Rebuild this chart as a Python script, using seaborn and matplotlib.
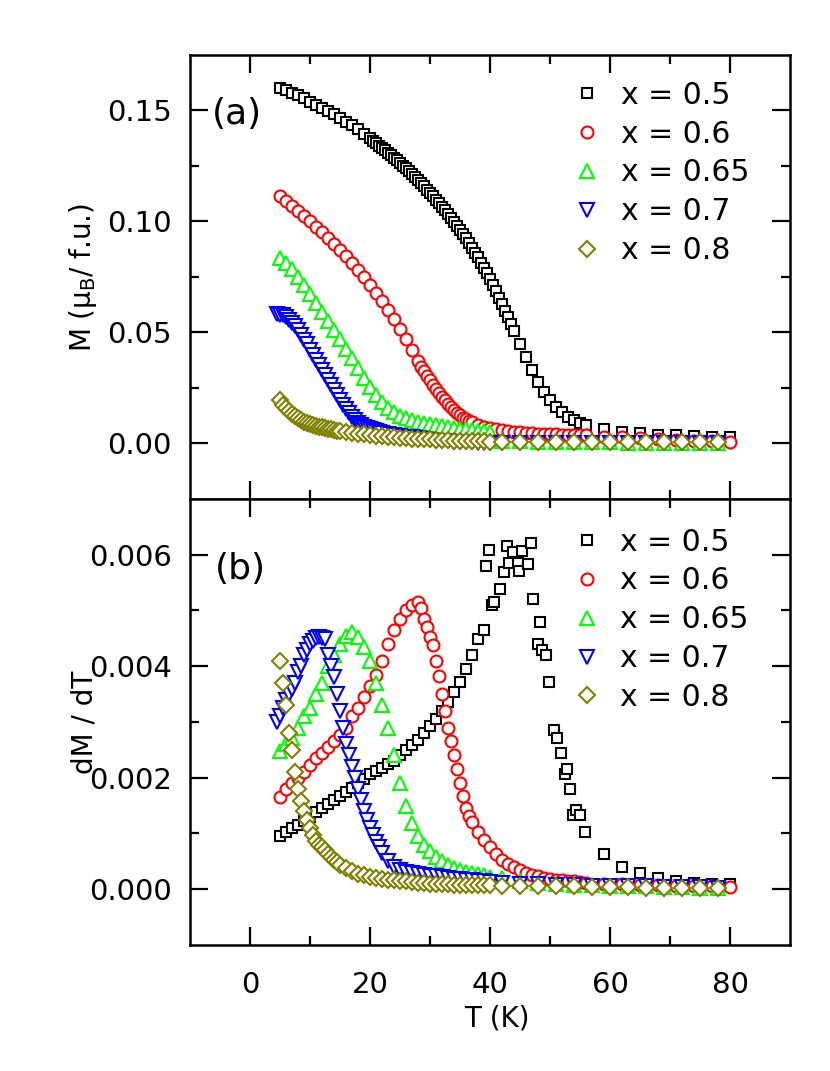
import numpy as np
import pandas as pd
import matplotlib
matplotlib.use("Agg")
import matplotlib.pyplot as plt
import seaborn as sns
from matplotlib.ticker import MultipleLocator, FormatStrFormatter
from matplotlib.transforms import blended_transform_factory

# ---------------- data ----------------
labels = ["x = 0.5", "x = 0.6", "x = 0.65", "x = 0.7", "x = 0.8"]
colors = ["#000000", "#FF0000", "#00FF00", "#0000FF", "#808000"]
markers = ["s", "o", "^", "v", "D"]

# x = 0.5 : magnetisation
T_05 = [5, 6, 7, 8, 9, 10, 11, 12, 13, 14, 15, 16, 17, 18, 19, 20, 20.5, 21, 21.5, 22,
        22.5, 23, 23.5, 24, 24.5, 25, 25.5, 26, 26.5, 27, 27.5, 28, 28.5, 29, 29.5, 30,
        30.5, 31, 31.5, 32, 32.5, 33, 33.5, 34, 34.5, 35, 35.5, 36, 36.5, 37, 37.5, 38,
        38.5, 39, 39.5, 40, 40.5, 41, 41.5, 42, 42.5, 43, 43.5, 44, 45, 46, 47, 48, 49,
        50, 51, 52, 53, 54, 55, 56, 59, 62, 65, 68, 71, 74, 77, 80]
M_05 = [0.1600, 0.1590, 0.1580, 0.1570, 0.1555, 0.1540, 0.1525, 0.1510, 0.1497, 0.1482,
        0.1467, 0.1450, 0.1433, 0.1415, 0.1395, 0.1375, 0.1364, 0.1353, 0.1342, 0.1331,
        0.1320, 0.1309, 0.1298, 0.1287, 0.1276, 0.1264, 0.1252, 0.1239, 0.1226, 0.1213,
        0.1200, 0.1186, 0.1172, 0.1158, 0.1144, 0.1129, 0.1114, 0.1099, 0.1083, 0.1067,
        0.1051, 0.1034, 0.1017, 0.0999, 0.0981, 0.0963, 0.0944, 0.0924, 0.0903, 0.0882,
        0.0860, 0.0838, 0.0815, 0.0792, 0.0768, 0.0743, 0.0715, 0.0686, 0.0657, 0.0628,
        0.0598, 0.0568, 0.0538, 0.0508, 0.0448, 0.0390, 0.0332, 0.0278, 0.0234, 0.0196,
        0.0165, 0.0140, 0.0120, 0.0104, 0.0092, 0.0083, 0.0064, 0.0053, 0.0046, 0.0040,
        0.0036, 0.0033, 0.0031, 0.0029]

# x = 0.5 : derivative (noisy above 39 K)
T_05_d = [5, 6, 7, 8, 9, 10, 11, 12, 13, 14, 15, 16, 17, 18, 19, 20, 21, 22, 23, 24,
          25, 26, 27, 28, 29, 30, 31, 32, 33, 34, 35, 36, 37, 38, 39,
          39.3, 39.9, 40.4, 40.7, 41.7, 42.4, 42.9, 43.2, 43.9, 44.6, 44.9, 45.3, 46.4,
          46.9, 47.2, 48.0, 48.4, 48.6, 49.3, 49.9, 50.6, 51.1, 51.9, 52.5, 52.8, 53.3,
          53.9, 54.3, 55.0, 55.8, 59, 62, 65, 68, 71, 74, 77, 80]
D_05 = [0.00095, 0.00102, 0.00110, 0.00116, 0.00123, 0.00130, 0.00138, 0.00145, 0.00152,
        0.00160, 0.00167, 0.00175, 0.00182, 0.00190, 0.00198, 0.00206, 0.00212, 0.00218,
        0.00224, 0.00230, 0.00240, 0.00250, 0.00258, 0.00268, 0.00280, 0.00292, 0.00305,
        0.00320, 0.00336, 0.00354, 0.00372, 0.00395, 0.00420, 0.00448, 0.00465,
        0.00580, 0.00608, 0.00510, 0.00515, 0.00538, 0.00569, 0.00616, 0.00586, 0.00605,
        0.00586, 0.00571, 0.00607, 0.00583, 0.00621, 0.00520, 0.00439, 0.00480, 0.00430,
        0.00420, 0.00372, 0.00285, 0.00272, 0.00245, 0.00207, 0.00215, 0.00179, 0.00133,
        0.00142, 0.00133, 0.00102, 0.00064, 0.00040, 0.00029, 0.00020, 0.00015, 0.00012,
        0.00010, 0.00010]

# x = 0.6
T_06 = [5, 6, 7, 8, 9, 10, 11, 12, 13, 14, 15, 16, 17, 18, 19, 20, 21, 22, 23, 24,
        25, 26, 27, 28, 28.5, 29, 29.5, 30, 30.5, 31, 31.5, 32, 32.5, 33, 33.5, 34, 34.5,
        35, 35.5, 36, 36.5, 37, 38, 39, 40, 41, 42, 43, 44, 45, 46, 47, 48, 49, 50, 51,
        52, 53, 54, 55, 56, 59, 62, 65, 68, 71, 74, 77, 80]
M_06 = [0.1113, 0.1091, 0.1069, 0.1046, 0.1023, 0.1000, 0.0976, 0.0951, 0.0925, 0.0899,
        0.0872, 0.0844, 0.0814, 0.0783, 0.0750, 0.0715, 0.0679, 0.0641, 0.0601, 0.0560,
        0.0516, 0.0469, 0.0420, 0.0370, 0.0346, 0.0325, 0.0304, 0.0284, 0.0264, 0.0245,
        0.0227, 0.0210, 0.0194, 0.0178, 0.0163, 0.0150, 0.0138, 0.0127, 0.0117, 0.0109,
        0.0102, 0.0096, 0.0085, 0.0076, 0.0068, 0.0064, 0.0060, 0.0056, 0.0053, 0.0050,
        0.0048, 0.0046, 0.0044, 0.0043, 0.0042, 0.0041, 0.0040, 0.0039, 0.0038, 0.0037,
        0.0036, 0.0031, 0.0027, 0.0023, 0.0019, 0.0016, 0.0013, 0.0010, 0.0007]
D_06 = [0.00165, 0.00180, 0.00190, 0.00200, 0.00210, 0.00222, 0.00235, 0.00245, 0.00256,
        0.00266, 0.00276, 0.00290, 0.00310, 0.00325, 0.00345, 0.00365, 0.00385, 0.00410,
        0.00440, 0.00465, 0.00485, 0.00500, 0.00510, 0.00515, 0.00505, 0.00485, 0.00470,
        0.00452, 0.00438, 0.00410, 0.00382, 0.00350, 0.00320, 0.00290, 0.00265, 0.00240,
        0.00215, 0.00190, 0.00168, 0.00146, 0.00132, 0.00120, 0.00102, 0.00088, 0.00075,
        0.00063, 0.00053, 0.00045, 0.00039, 0.00034, 0.00030, 0.00026, 0.00023, 0.00021,
        0.00019, 0.00017, 0.00016, 0.00015, 0.00014, 0.00013, 0.00012, 0.00010, 0.00009,
        0.00008, 0.00007, 0.00006, 0.00005, 0.00005, 0.00004]

# x = 0.65
T_065 = [5, 6, 7, 8, 9, 10, 11, 12, 13, 14, 15, 16, 17, 18, 19, 20, 21, 22, 23, 24,
         25, 26, 27, 28, 29, 30, 31, 32, 33, 34, 35, 36, 37, 38, 39, 40,
         42, 45, 48, 51, 54, 57, 60, 63, 66, 69, 72, 75, 78]
M_065 = [0.0835, 0.0815, 0.0785, 0.0750, 0.0712, 0.0672, 0.0632, 0.0592, 0.0552, 0.0511,
         0.0470, 0.0427, 0.0384, 0.0340, 0.0297, 0.0256, 0.0218, 0.0186, 0.0160, 0.0140,
         0.0125, 0.0113, 0.0104, 0.0097, 0.0091, 0.0086, 0.0081, 0.0077, 0.0073, 0.0069,
         0.0066, 0.0063, 0.0060, 0.0057, 0.0054, 0.0051,
         0.0010, 0.0009, 0.0008, 0.0007, 0.0006, 0.0005, 0.0005, 0.0004, 0.0004, 0.0003,
         0.0003, 0.0002, 0.0002]
D_065 = [0.00248, 0.00260, 0.00272, 0.00290, 0.00310, 0.00325, 0.00350, 0.00370, 0.00400,
         0.00420, 0.00440, 0.00455, 0.00462, 0.00452, 0.00435, 0.00410, 0.00370, 0.00330,
         0.00290, 0.00240, 0.00190, 0.00150, 0.00118, 0.00095, 0.00080, 0.00068, 0.00058,
         0.00050, 0.00043, 0.00038, 0.00034, 0.00031, 0.00029, 0.00027, 0.00025, 0.00022,
         0.00020, 0.00015, 0.00012, 0.00010, 0.00008, 0.00007, 0.00006, 0.00005, 0.00005,
         0.00004, 0.00004, 0.00003, 0.00003]

# x = 0.7
T_07 = [4.5, 5, 5.5, 6, 6.5, 7, 7.5, 8, 8.5, 9, 9.5, 10, 10.5, 11, 11.5, 12, 12.5, 13,
        13.5, 14, 14.5, 15, 15.5, 16, 16.5, 17, 17.5, 18, 18.5, 19, 19.5, 20, 20.5, 21,
        21.5, 22, 23, 24, 25, 26, 27, 28, 29, 30, 31, 32, 33, 34, 35, 36, 37, 38, 39, 40,
        42, 45, 48, 51, 54, 57, 60, 63, 66, 69, 72, 75, 78]
M_07 = [0.0582, 0.0580, 0.0577, 0.0570, 0.0558, 0.0543, 0.0527, 0.0509, 0.0489, 0.0468,
        0.0446, 0.0423, 0.0400, 0.0377, 0.0354, 0.0331, 0.0308, 0.0286, 0.0263, 0.0240,
        0.0218, 0.0196, 0.0175, 0.0155, 0.0136, 0.0119, 0.0105, 0.0093, 0.0084, 0.0076,
        0.0070, 0.0064, 0.0060, 0.0056, 0.0052, 0.0049, 0.0043, 0.0038,
        0.0034, 0.0031, 0.0027, 0.0023, 0.0019, 0.0016, 0.0013, 0.0011, 0.0009, 0.0008,
        0.0007, 0.0006, 0.0005, 0.0004, 0.0004, 0.0003, 0.0002, 0.0002, 0.0001, 0.0001,
        0.0001, 0.0000, 0.0000, 0.0000, 0.0000, 0.0000, 0.0000, 0.0000, 0.0000]
D_07 = [0.00300, 0.00310, 0.00325, 0.00340, 0.00350, 0.00360, 0.00370, 0.00390, 0.00400,
        0.00420, 0.00430, 0.00440, 0.00445, 0.00450, 0.00452, 0.00450, 0.00448, 0.00420,
        0.00400, 0.00380, 0.00350, 0.00320, 0.00290, 0.00260, 0.00240, 0.00220, 0.00200,
        0.00180, 0.00160, 0.00140, 0.00125, 0.00110, 0.00097, 0.00085, 0.00075, 0.00065,
        0.00050, 0.00040, 0.00035, 0.00031, 0.00029, 0.00027, 0.00025, 0.00024,
        0.00023, 0.00022, 0.00020, 0.00019, 0.00018, 0.00017, 0.00016, 0.00015, 0.00014,
        0.00013, 0.00011, 0.00010, 0.00009, 0.00008, 0.00007, 0.00006, 0.00006, 0.00005,
        0.00005, 0.00004, 0.00004, 0.00004, 0.00003]

# x = 0.8
T_08 = [5, 5.5, 6, 6.5, 7, 7.5, 8, 8.5, 9, 9.5, 10, 10.5, 11, 11.5, 12, 12.5, 13, 13.5,
        14, 14.5, 15, 16, 17, 18, 19, 20, 21, 22, 23, 24, 25, 26, 27, 28, 29, 30, 31, 32,
        33, 34, 35, 36, 37, 38, 39, 40, 42, 45, 48, 51, 54, 57, 60, 63, 66, 69, 72, 75, 78]
M_08 = [0.0195, 0.0175, 0.0160, 0.0145, 0.0133, 0.0122, 0.0113, 0.0105, 0.0098, 0.0092,
        0.0087, 0.0083, 0.0079, 0.0075, 0.0072, 0.0069, 0.0066, 0.0063, 0.0061, 0.0058,
        0.0056, 0.0052, 0.0048, 0.0044, 0.0041, 0.0038, 0.0035, 0.0032, 0.0030, 0.0028,
        0.0026, 0.0024, 0.0022, 0.0021, 0.0019, 0.0018, 0.0016, 0.0015, 0.0014, 0.0013,
        0.0012, 0.0011, 0.0010, 0.0009, 0.0009, 0.0008, 0.0008, 0.0008, 0.0007, 0.0007,
        0.0007, 0.0006, 0.0006, 0.0006, 0.0006, 0.0005, 0.0005, 0.0005, 0.0005]
D_08 = [0.00410, 0.00370, 0.00330, 0.00280, 0.00250, 0.00210, 0.00180, 0.00158, 0.00140,
        0.00124, 0.00110, 0.00097, 0.00087, 0.00080, 0.00075, 0.00070, 0.00064, 0.00058,
        0.00053, 0.00048, 0.00044, 0.00038, 0.00033, 0.00028, 0.00025, 0.00022, 0.00020,
        0.00018, 0.00017, 0.00016, 0.00015, 0.00014, 0.00013, 0.00012, 0.00011, 0.00010,
        0.00010, 0.00009, 0.00009, 0.00008, 0.00008, 0.00008, 0.00007, 0.00007, 0.00007,
        0.00007, 0.00006, 0.00006, 0.00005, 0.00005, 0.00005, 0.00004, 0.00004, 0.00004,
        0.00003, 0.00003, 0.00003, 0.00002, 0.00002]

xticks = [0, 20, 40, 60, 80]

# ---------------- style ----------------
sns.set_style("ticks", rc={
    "axes.edgecolor": "black", "text.color": "black", "axes.labelcolor": "black",
    "xtick.color": "black", "ytick.color": "black",
    "xtick.direction": "in", "ytick.direction": "in",
    "axes.linewidth": 1.8,
})
plt.rcParams["font.family"] = ["DejaVu Sans"]
plt.rcParams["mathtext.default"] = "regular"

W, H = 830.0, 1071.0
AX_W = 600.0
fig = plt.figure(figsize=(8.3, 10.71), dpi=100)
ax_top = fig.add_axes([190.02 / W, 572.02 / H, AX_W / W, 444.0 / H])
ax_bot = fig.add_axes([190.02 / W, 126.02 / H, AX_W / W, 446.0 / H])

top_sets = [(T_05, M_05), (T_06, M_06), (T_065, M_065), (T_07, M_07), (T_08, M_08)]
bot_sets = [(T_05_d, D_05), (T_06, D_06), (T_065, D_065), (T_07, D_07), (T_08, D_08)]
msizes = [7.6, 8.6, 9.6, 9.6, 8.2]

for ax, sets in [(ax_top, top_sets), (ax_bot, bot_sets)]:
    for (t, v), lab, c, m, ms in zip(sets, labels, colors, markers, msizes):
        df = pd.DataFrame({"T": t, "v": v})
        sns.lineplot(data=df, x="T", y="v", ax=ax, estimator=None, sort=False,
                     linestyle="none", marker=m, markersize=ms,
                     markerfacecolor="white", markeredgecolor=c,
                     markeredgewidth=1.5, color=c, label=lab)

for ax in (ax_top, ax_bot):
    ax.set_xlim(-10, 90)
    ax.set_xticks(xticks)
    ax.xaxis.set_minor_locator(MultipleLocator(10))
    ax.tick_params(which="both", direction="in", length=0)
    ax.tick_params(axis="y", which="major", labelsize=21, pad=13, labelcolor="black")
    ax.tick_params(axis="x", which="major", labelsize=21, pad=19, labelcolor="black")
    ax.legend(loc="upper left", frameon=False, fontsize=21.5, handlelength=1.0,
              handletextpad=0.62, labelspacing=0.33, borderpad=0,
              borderaxespad=0, numpoints=1)
    for sp in ax.spines.values():
        sp.set_linewidth(1.8)
        sp.set_color("black")

ax_top.set_ylim(-0.025, 0.175)
ax_top.yaxis.set_major_locator(MultipleLocator(0.05))
ax_top.yaxis.set_minor_locator(MultipleLocator(0.025))
ax_top.yaxis.set_major_formatter(FormatStrFormatter("%.2f"))
ax_top.tick_params(axis="x", labelbottom=False)
ax_top.set_xlabel("")
ax_top.set_ylabel("M (μ$_\\mathregular{B}$/ f.u.)", fontsize=20)
ax_top.yaxis.set_label_coords(-0.152, 0.5)
ax_top.legend_.set_bbox_to_anchor((0.637, 0.942), transform=ax_top.transAxes)
ax_top.text(0.037, 0.867, "(a)", transform=ax_top.transAxes, fontsize=26,
            ha="left", va="center")

ax_bot.set_ylim(-0.001, 0.007)
ax_bot.yaxis.set_major_locator(MultipleLocator(0.002))
ax_bot.yaxis.set_minor_locator(MultipleLocator(0.001))
ax_bot.yaxis.set_major_formatter(FormatStrFormatter("%.3f"))
ax_bot.set_xlabel("T (K)", fontsize=20, labelpad=4)
ax_bot.xaxis.label.set_x(0.512)
ax_bot.set_ylabel("dM / dT", fontsize=20)
ax_bot.yaxis.set_label_coords(-0.152, 0.5)
ax_bot.legend_.set_bbox_to_anchor((0.636, 0.936), transform=ax_bot.transAxes)
ax_bot.text(0.042, 0.842, "(b)", transform=ax_bot.transAxes, fontsize=26,
            ha="left", va="center")


# inward tick marks on all four sides, at the positions chosen by the axis locators
def draw_inward_ticks(ax, ax_h_px, major_px=18.0, minor_px=9.0, lw=1.6):
    x0, x1 = ax.get_xlim()
    y0, y1 = ax.get_ylim()
    ty = blended_transform_factory(ax.transAxes, ax.transData)
    tx = blended_transform_factory(ax.transData, ax.transAxes)
    kw = dict(color="black", lw=lw, solid_capstyle="butt", clip_on=False, zorder=2.6)
    eps_x = 1e-9 * (x1 - x0)
    eps_y = 1e-9 * (y1 - y0)
    ymaj = [v for v in ax.yaxis.get_majorticklocs() if y0 + eps_y < v < y1 - eps_y]
    ymin = [v for v in ax.yaxis.get_minorticklocs() if y0 + eps_y < v < y1 - eps_y]
    xmaj = [v for v in ax.xaxis.get_majorticklocs() if x0 + eps_x < v < x1 - eps_x]
    xmin = [v for v in ax.xaxis.get_minorticklocs() if x0 + eps_x < v < x1 - eps_x]
    for vals, L in [(ymaj, major_px), (ymin, minor_px)]:
        f = L / AX_W
        for v in vals:
            ax.plot([0, f], [v, v], transform=ty, **kw)
            ax.plot([1 - f, 1], [v, v], transform=ty, **kw)
    for vals, L in [(xmaj, major_px), (xmin, minor_px)]:
        f = L / ax_h_px
        for v in vals:
            ax.plot([v, v], [0, f], transform=tx, **kw)
            ax.plot([v, v], [1 - f, 1], transform=tx, **kw)
    ax.set_xlim(x0, x1)
    ax.set_ylim(y0, y1)


draw_inward_ticks(ax_top, 444.0)
draw_inward_ticks(ax_bot, 446.0)

fig.savefig("out.png", dpi=100)
